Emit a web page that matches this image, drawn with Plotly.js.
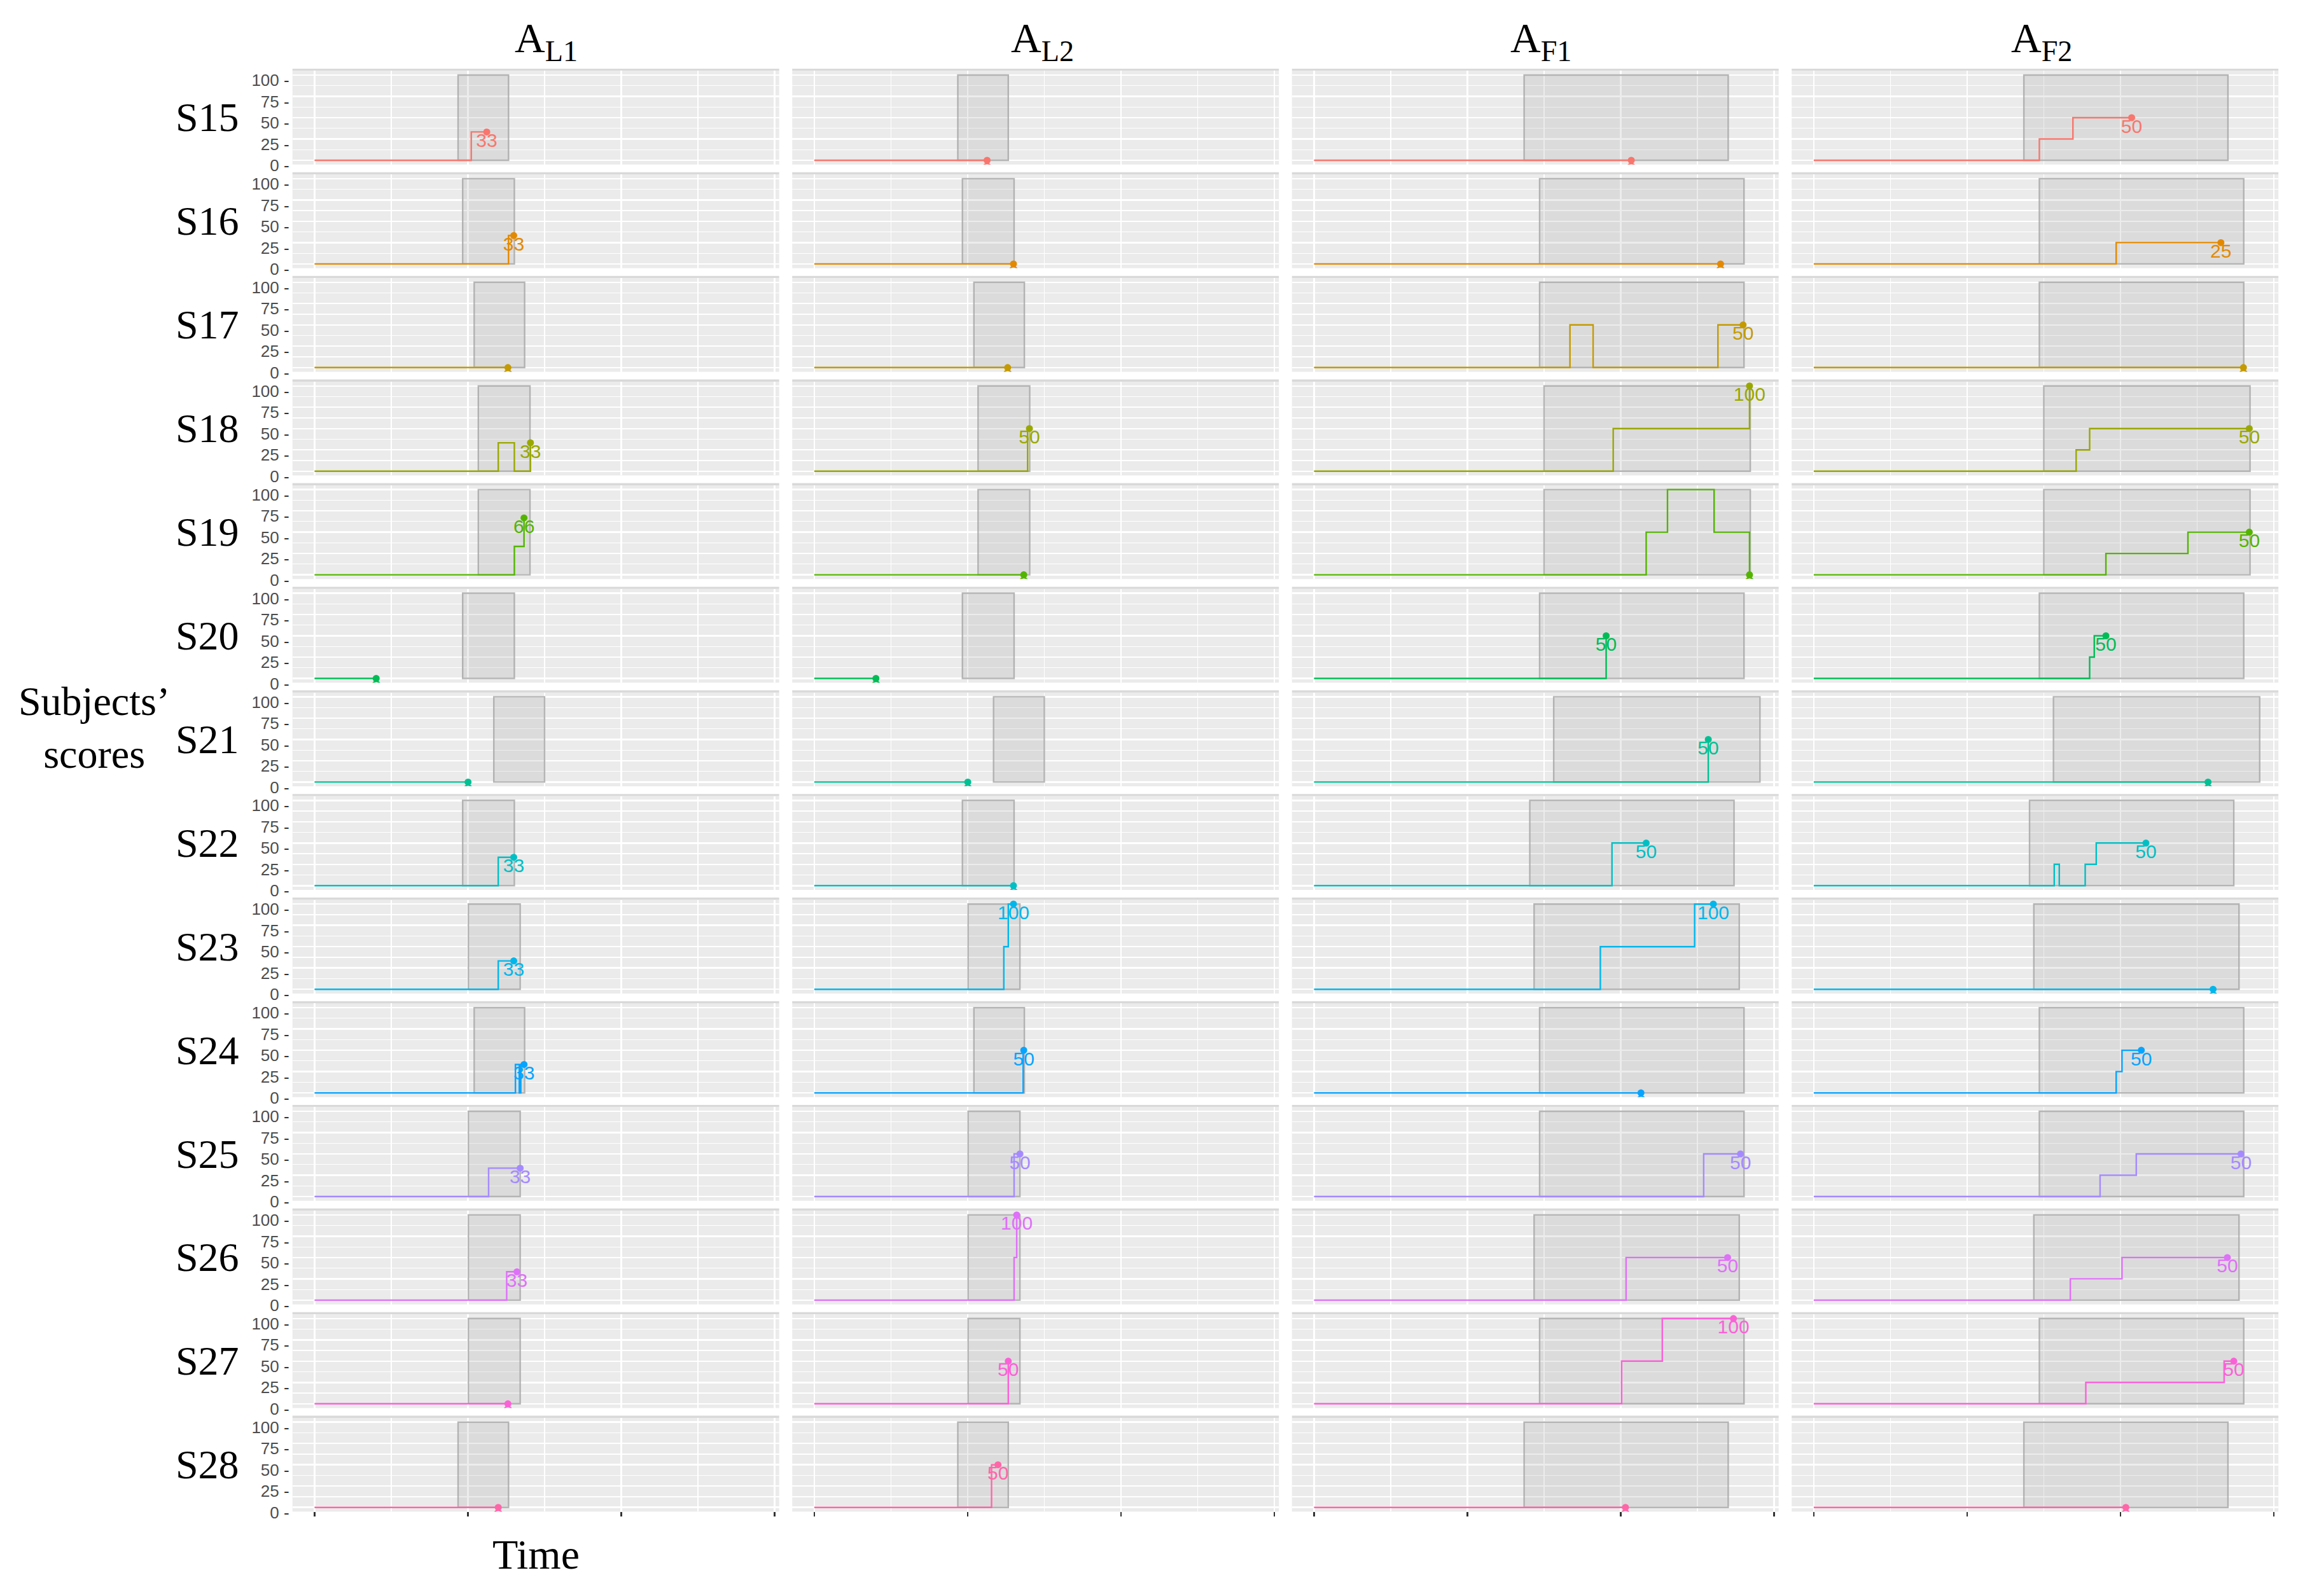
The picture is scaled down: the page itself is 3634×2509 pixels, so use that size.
<!DOCTYPE html>
<html>
<head>
<meta charset="utf-8">
<script src="https://cdn.plot.ly/plotly-3.0.1.min.js"></script>
<style>
  html, body { margin: 0; padding: 0; background: #ffffff; }
  #chart { width: 3634px; height: 2509px; }
</style>
</head>
<body>
<div id="chart"></div>
<script>
// ---------------- DATA ----------------
const subjects = ['S15','S16','S17','S18','S19','S20','S21','S22','S23','S24','S25','S26','S27','S28'];
const testNames = ['A<sub>L1</sub>','A<sub>L2</sub>','A<sub>F1</sub>','A<sub>F2</sub>'];
const seriesColors = ['#F8766D','#E38900','#C49A00','#99A800','#53B400','#00BC56','#00C094',
                      '#00BFC4','#00B6EB','#06A4FF','#A58AFF','#DF70F8','#FB61D7','#FF66A8'];

// Shaded time windows per subject (L tests share one, F tests share one)
const windowL_start = [9.36, 9.66, 10.41, 10.68, 10.68, 9.66, 11.69, 9.66, 10.03, 10.41, 10.03, 10.03, 10.03, 9.36];
const windowL_end   = [12.65, 13.03, 13.70, 14.05, 14.05, 13.03, 15.00, 13.03, 13.41, 13.70, 13.41, 13.41, 13.41, 12.65];
const windowF_start = [13.70, 14.71, 14.71, 15.00, 15.00, 14.71, 15.63, 14.07, 14.35, 14.71, 14.71, 14.35, 14.71, 13.70];
const windowF_end   = [27.01, 28.04, 28.04, 28.45, 28.45, 28.04, 29.08, 27.39, 27.73, 28.04, 28.04, 27.73, 28.04, 27.01];

// Score steps: [time, score] change points; last pair = final point
const stepsAL1 = [
  [[0,0],[10.22,33.3],[11.23,33.3]],
  [[0,0],[12.65,33.3],[12.99,33.3]],
  [[0,0],[12.61,0]],
  [[0,0],[11.98,33.3],[13.03,0],[14.08,33.3]],
  [[0,0],[13.03,33.3],[13.66,66.7]],
  [[0,0],[4.02,0]],
  [[0,0],[10.01,0]],
  [[0,0],[11.98,33.3],[12.99,33.3]],
  [[0,0],[11.98,33.3],[12.99,33.3]],
  [[0,0],[13.10,33.3],[13.35,0],[13.45,33.3],[13.66,33.3]],
  [[0,0],[11.35,33.3],[13.41,33.3]],
  [[0,0],[12.53,33.3],[13.20,33.3]],
  [[0,0],[12.61,0]],
  [[0,0],[11.98,0]]
];
const stepsAL2 = [
  [[0,0],[11.27,0]],
  [[0,0],[12.99,0]],
  [[0,0],[12.61,0]],
  [[0,0],[13.91,50],[14.03,50]],
  [[0,0],[13.66,0]],
  [[0,0],[4.02,0]],
  [[0,0],[10.01,0]],
  [[0,0],[12.99,0]],
  [[0,0],[12.36,50],[12.65,100],[12.99,100]],
  [[0,0],[13.62,50],[13.66,50]],
  [[0,0],[13.03,50],[13.41,50]],
  [[0,0],[13.03,50],[13.20,100]],
  [[0,0],[12.65,50]],
  [[0,0],[11.56,50],[11.98,50]]
];
const stepsAF1 = [
  [[0,0],[20.69,0]],
  [[0,0],[26.51,0]],
  [[0,0],[16.69,50],[18.20,0],[26.34,50],[27.98,50]],
  [[0,0],[19.51,50],[28.40,100]],
  [[0,0],[21.66,50],[23.05,100],[26.09,50],[28.40,0]],
  [[0,0],[19.05,50]],
  [[0,0],[25.71,50]],
  [[0,0],[19.43,50],[21.66,50]],
  [[0,0],[18.67,50],[24.82,100],[26.04,100]],
  [[0,0],[21.32,0]],
  [[0,0],[25.41,50],[27.81,50]],
  [[0,0],[20.35,50],[26.97,50]],
  [[0,0],[20.06,50],[22.71,100],[27.35,100]],
  [[0,0],[20.31,0]]
];
const stepsAF2 = [
  [[0,0],[14.71,25],[16.90,50],[20.73,50]],
  [[0,0],[19.72,25],[26.55,25]],
  [[0,0],[28.02,0]],
  [[0,0],[17.11,25],[17.99,50],[28.40,50]],
  [[0,0],[19.05,25],[24.40,50],[28.40,50]],
  [[0,0],[17.99,25],[18.29,50],[19.05,50]],
  [[0,0],[25.71,0]],
  [[0,0],[15.68,25],[16.01,0],[17.70,25],[18.42,50],[21.66,50]],
  [[0,0],[26.04,0]],
  [[0,0],[19.72,25],[20.10,50],[21.36,50]],
  [[0,0],[18.67,25],[21.03,50],[27.86,50]],
  [[0,0],[16.73,25],[20.10,50],[26.97,50]],
  [[0,0],[17.74,25],[26.76,50],[27.39,50]],
  [[0,0],[20.35,0]]
];
const yTickVals = [0, 25, 50, 75, 100];
const yTickLabels = ['0', '25', '50', '75', '100'];
const xTickVals = [0, 10, 20, 30];

// ---------------- LAYOUT CONSTANTS ----------------
const W = 3634, H = 2509;
const COL_LEFT0 = 459.7, COL_STEP = 785.5, PANEL_W = 765;
const ROW_TOP0 = 111.3, ROW_STEP = 162.9, PANEL_H = 147.4, BAND_H = 3.4;
const SERIF = '"Liberation Serif", "DejaVu Serif", "Times New Roman", serif';
const SANS = '"Liberation Sans", Arial, Helvetica, sans-serif';
const LABEL_DROP = 12; // text label placed below the end point (score units)

const allSteps = [stepsAL1, stepsAL2, stepsAF1, stepsAF2];
const winStart = [windowL_start, windowL_start, windowF_start, windowF_start];
const winEnd = [windowL_end, windowL_end, windowF_end, windowF_end];

const traces = [];
const shapes = [];
const annotations = [];
const layout = {
  width: W, height: H,
  margin: {l: 0, r: 0, t: 0, b: 0, pad: 0},
  paper_bgcolor: '#ffffff',
  plot_bgcolor: '#EBEBEB',
  showlegend: false,
  font: {family: SANS, color: '#4D4D4D'}
};

for (let r = 0; r < subjects.length; r++) {
  const top = ROW_TOP0 + r * ROW_STEP;
  for (let c = 0; c < 4; c++) {
    const idx = r * 4 + c + 1;
    const s = idx === 1 ? '' : String(idx);
    const left = COL_LEFT0 + c * COL_STEP;
    const lastRow = r === subjects.length - 1;

    layout['xaxis' + s] = {
      domain: [left / W, (left + PANEL_W) / W],
      anchor: 'y' + s,
      range: [-1.44, 30.3],
      tickmode: 'array', tickvals: xTickVals,
      showticklabels: false,
      ticks: lastRow ? 'outside' : '',
      ticklen: 7, tickwidth: 2.2, tickcolor: '#333333',
      showgrid: true, gridcolor: '#FFFFFF', gridwidth: 2.4,
      minor: {tickvals: [5, 15, 25], showgrid: true, gridcolor: '#FFFFFF', gridwidth: 1.3, ticks: ''},
      zeroline: false, showline: false, fixedrange: true
    };
    layout['yaxis' + s] = {
      domain: [1 - (top + PANEL_H) / H, 1 - top / H],
      anchor: 'x' + s,
      range: [-5, 105],
      tickmode: 'array', tickvals: yTickVals,
      ticktext: yTickLabels.map(t => t + ' <span style="color:#333333">-</span>'),
      showticklabels: c === 0,
      ticks: '',
      ticklabelshift: 8,
      ticklabelstandoff: 4,
      tickfont: {family: SANS, size: 26, color: '#4D4D4D'},
      showgrid: true, gridcolor: '#FFFFFF', gridwidth: 2.4,
      minor: {tickvals: [12.5, 37.5, 62.5, 87.5], showgrid: true, gridcolor: '#FFFFFF', gridwidth: 1.3, ticks: ''},
      zeroline: false, showline: false, fixedrange: true
    };

    // thin strip band on top of each panel
    shapes.push({
      type: 'rect', xref: 'paper', yref: 'paper', layer: 'below',
      x0: left / W, x1: (left + PANEL_W) / W,
      y0: 1 - top / H, y1: 1 - (top - BAND_H) / H,
      fillcolor: '#D9D9D9', line: {width: 0}
    });
    // shaded time window
    shapes.push({
      type: 'rect', xref: 'x' + s, yref: 'y' + s, layer: 'between',
      x0: winStart[c][r], x1: winEnd[c][r], y0: 0, y1: 100,
      fillcolor: 'rgba(127,127,127,0.15)',
      line: {color: 'rgba(165,165,165,0.8)', width: 2.4}
    });

    const st = allSteps[c][r];
    const xs = st.map(p => p[0]);
    const ys = st.map(p => p[1]);
    const col = seriesColors[r];
    const endX = xs[xs.length - 1], endY = ys[ys.length - 1];

    traces.push({
      type: 'scatter', mode: 'lines', x: xs, y: ys,
      xaxis: 'x' + s, yaxis: 'y' + s,
      line: {shape: 'hv', color: col, width: 2.4},
      hoverinfo: 'skip', showlegend: false
    });
    traces.push({
      type: 'scatter', mode: 'markers', x: [endX], y: [endY],
      xaxis: 'x' + s, yaxis: 'y' + s,
      marker: {color: col, size: 11, line: {width: 0}},
      hoverinfo: 'skip', showlegend: false
    });
    traces.push({
      type: 'scatter', mode: 'text', x: [endX], y: [endY - LABEL_DROP],
      xaxis: 'x' + s, yaxis: 'y' + s,
      text: [String(Math.trunc(endY))], textposition: 'middle center',
      textfont: {family: SANS, size: 30, color: col},
      cliponaxis: true, hoverinfo: 'skip', showlegend: false
    });
  }
  annotations.push({
    xref: 'paper', yref: 'paper', x: 378 / W, y: 1 - (top + PANEL_H / 2) / H,
    xanchor: 'right', yanchor: 'middle', showarrow: false,
    text: subjects[r], font: {family: SERIF, size: 64, color: '#000000'}
  });
}

const titleCenters = [858, 1638, 2422, 3209];
for (let c = 0; c < 4; c++) {
  annotations.push({
    xref: 'paper', yref: 'paper', x: titleCenters[c] / W, y: 1 - 64 / H,
    xanchor: 'center', yanchor: 'middle', showarrow: false,
    text: testNames[c], font: {family: SERIF, size: 66, color: '#000000'}
  });
}
annotations.push({
  xref: 'paper', yref: 'paper', x: 842 / W, y: 1 - 2443 / H,
  xanchor: 'center', yanchor: 'middle', showarrow: false,
  text: 'Time', font: {family: SERIF, size: 66, color: '#000000'}
});
annotations.push({
  xref: 'paper', yref: 'paper', x: 148 / W, y: 1 - 1144 / H,
  xanchor: 'center', yanchor: 'middle', showarrow: false, align: 'center',
  text: 'Subjects’<br>scores', font: {family: SERIF, size: 64, color: '#000000'}
});

layout.shapes = shapes;
layout.annotations = annotations;

Plotly.newPlot('chart', traces, layout, {staticPlot: true, responsive: false, displayModeBar: false});
</script>
</body>
</html>
